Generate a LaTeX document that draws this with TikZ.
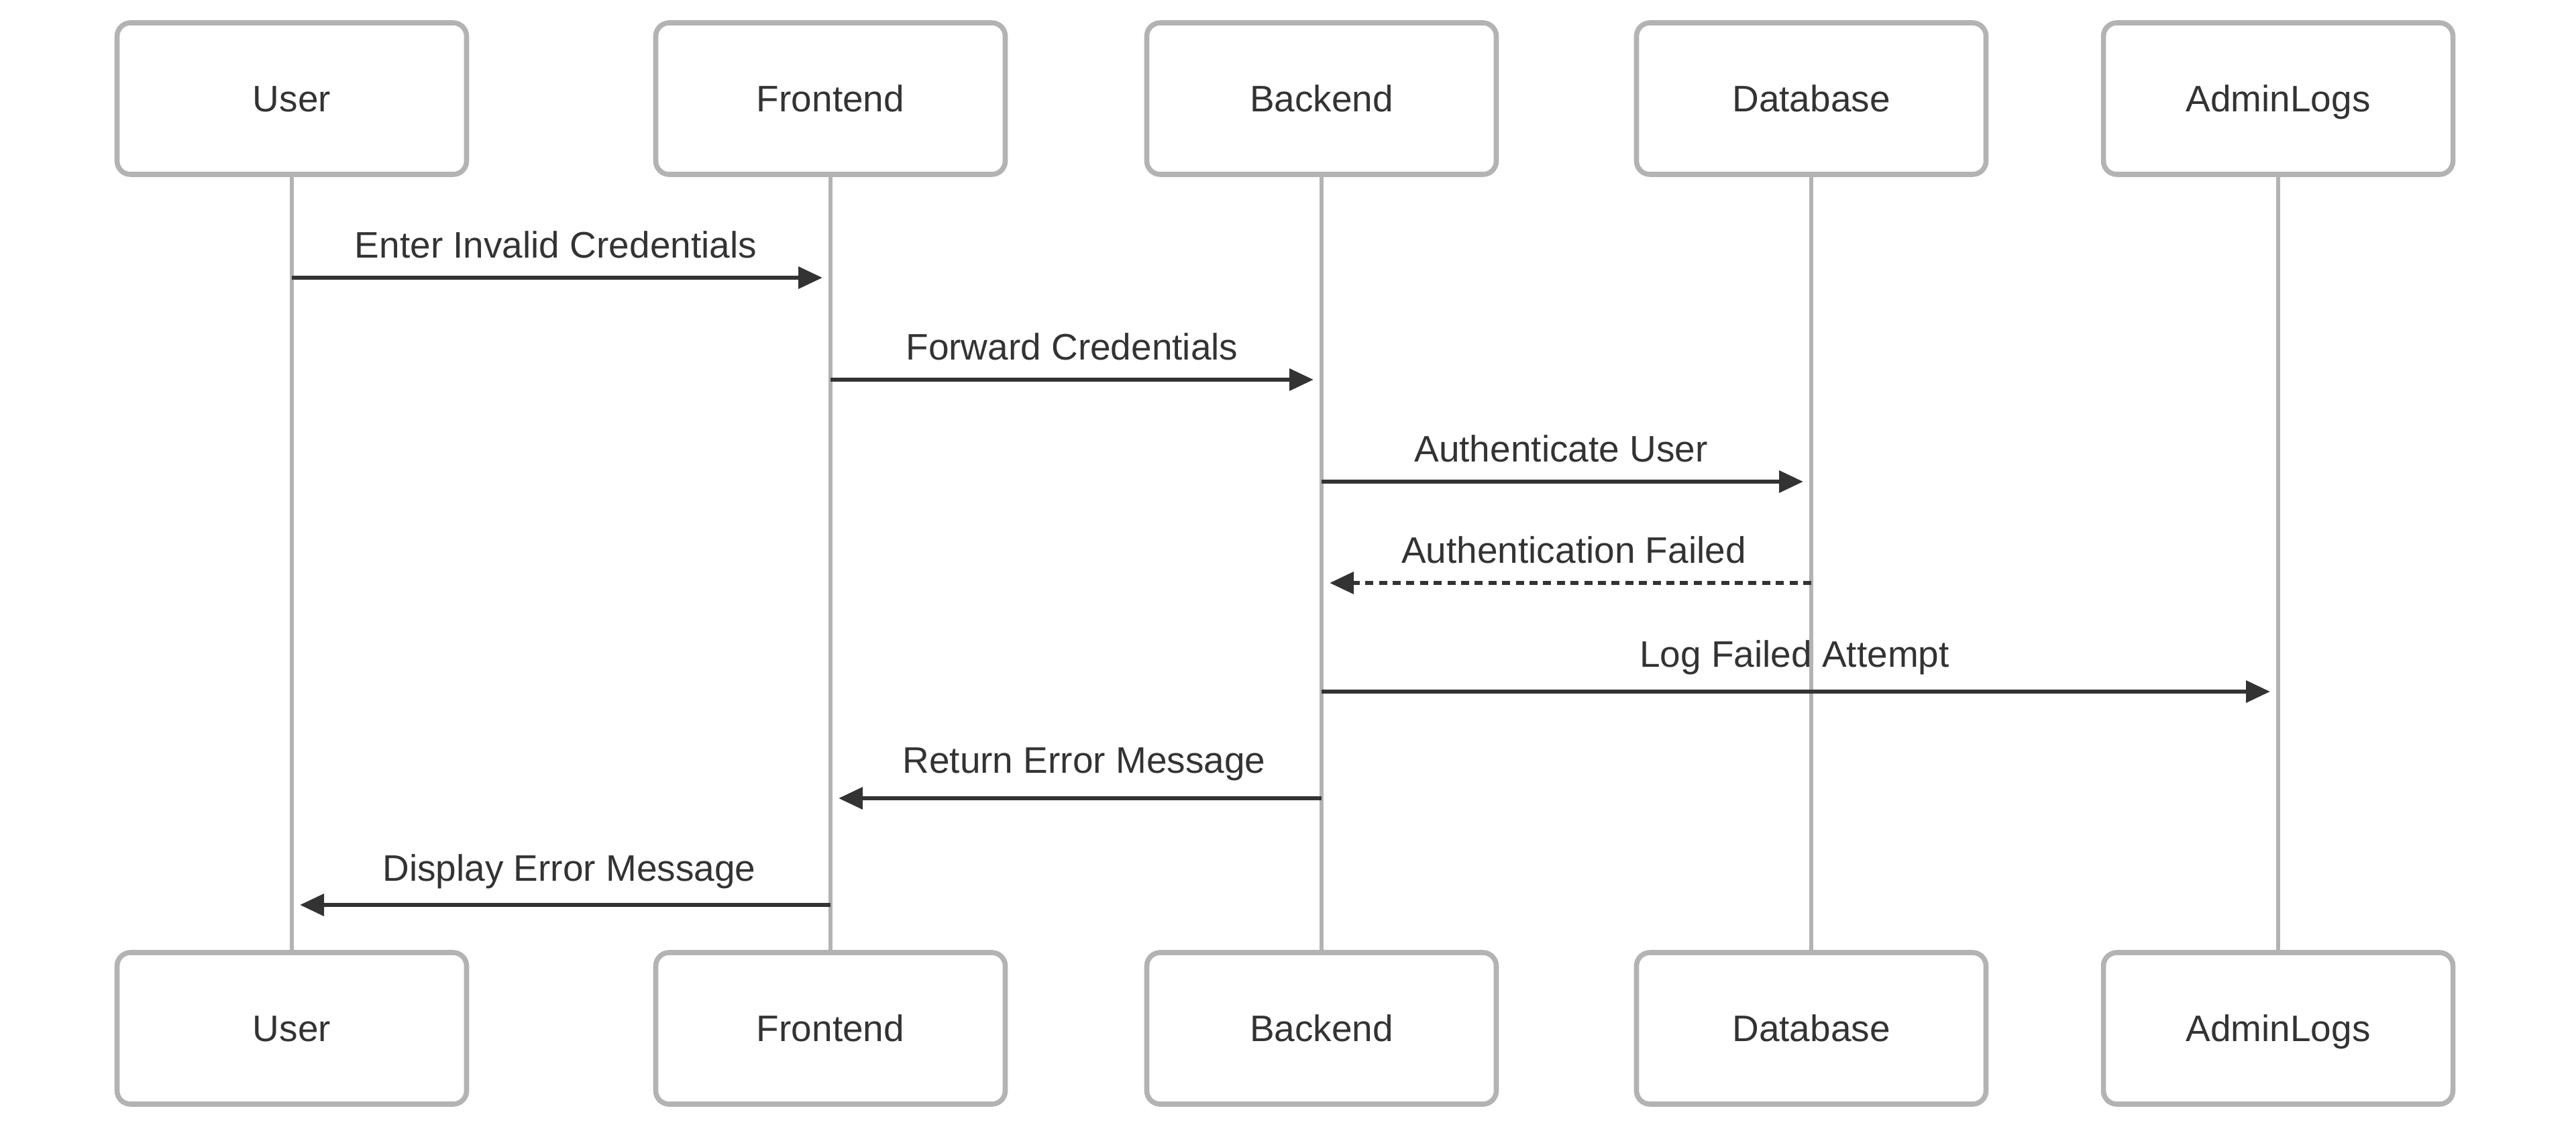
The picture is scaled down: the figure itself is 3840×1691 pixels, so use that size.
\documentclass[tikz,border=0pt]{standalone}
\usepackage{fontspec}
\setmainfont{Liberation Sans}
\usetikzlibrary{arrows.meta,calc}
\definecolor{boxgray}{HTML}{B3B3B3}
\definecolor{ink}{HTML}{333333}
\begin{document}
\begin{tikzpicture}[x=0.25pt,y=-0.25pt,
  actor/.style={draw=boxgray, line width=1.9pt, rounded corners=5pt, fill=white,
    minimum width=130.25pt, minimum height=56.5pt, inner sep=0pt, text=ink,
    text height=9.85pt, text depth=0pt,
    font=\fontsize{13.75}{16}\selectfont},
  life/.style={draw=boxgray, line width=1.4pt},
  msg/.style={draw=ink, line width=1.6pt, -{Triangle[length=9pt,width=8pt]}, shorten >=3pt},
  reply/.style={msg, dash pattern=on 3pt off 2.1pt},
  lbl/.style={text=ink, font=\fontsize{13.75}{16}\selectfont, anchor=base, inner sep=0pt}]
\useasboundingbox (0,0) rectangle (3840,1691);
% top actors
\node[actor] (u1) at (435,147) {User};
\node[actor] (f1) at (1238,147) {Frontend};
\node[actor] (b1) at (1970,147) {Backend};
\node[actor] (d1) at (2700,147) {Database};
\node[actor] (a1) at (3396,147) {AdminLogs};
% bottom actors
\node[actor] (u2) at (435,1533) {User};
\node[actor] (f2) at (1238,1533) {Frontend};
\node[actor] (b2) at (1970,1533) {Backend};
\node[actor] (d2) at (2700,1533) {Database};
\node[actor] (a2) at (3396,1533) {AdminLogs};
% lifelines
\draw[life] (u1.south) -- (u2.north);
\draw[life] (f1.south) -- (f2.north);
\draw[life] (b1.south) -- (b2.north);
\draw[life] (d1.south) -- (d2.north);
\draw[life] (a1.south) -- (a2.north);
% label midpoints
\coordinate (muf) at ($(u1.south)!0.5!(f1.south)$);
\coordinate (mfb) at ($(f1.south)!0.5!(b1.south)$);
\coordinate (mbd) at ($(b1.south)!0.5!(d1.south)$);
\coordinate (mba) at ($(b1.south)!0.5!(a1.south)$);
% messages
\draw[msg] (u1.south |- 0,414) -- (f1.south |- 0,414);
\node[lbl] (l1) at ([xshift=-2pt]muf |- 0,384) {Enter Invalid Credentials};
\draw[msg] (f1.south |- 0,566) -- (b1.south |- 0,566);
\node[lbl] (l2) at ([xshift=-1.5pt]mfb |- 0,536) {Forward Credentials};
\draw[msg] (b1.south |- 0,718) -- (d1.south |- 0,718);
\node[lbl] (l3) at ([xshift=-2pt]mbd |- 0,688) {Authenticate User};
\draw[reply] (d1.south |- 0,869) -- (b1.south |- 0,869);
\node[lbl] (l4) at ([xshift=2.75pt]mbd |- 0,839) {Authentication Failed};
\draw[msg] (b1.south |- 0,1031) -- (a1.south |- 0,1031);
\node[lbl] (l5) at ([xshift=-2pt]mba |- 0,994) {Log Failed Attempt};
\draw[msg] (b1.south |- 0,1190) -- (f1.south |- 0,1190);
\node[lbl] (l6) at ([xshift=3pt]mfb |- 0,1152) {Return Error Message};
\draw[msg] (f1.south |- 0,1349) -- (u1.south |- 0,1349);
\node[lbl] (l7) at ([xshift=3pt]muf |- 0,1313) {Display Error Message};
\end{tikzpicture}
\end{document}
